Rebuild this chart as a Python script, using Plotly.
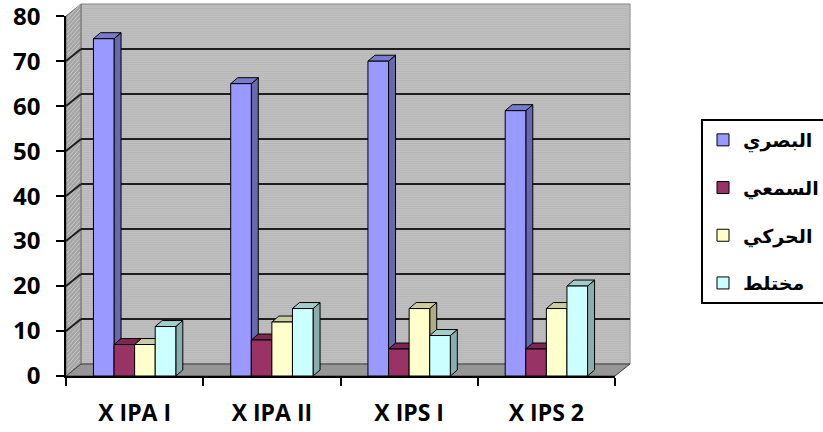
import plotly.graph_objects as go

# ---------------- data ----------------
categories = ["X IPA I", "X IPA II", "X IPS I", "X IPS 2"]
series_names = ["البصري", "السمعي", "الحركي", "مختلط"]
basari = [75, 65, 70, 59]
samei = [7, 8, 6, 6]
haraki = [7, 12, 15, 15]
mukhtalat = [11, 15, 9, 20]
y_tick_values = [0, 10, 20, 30, 40, 50, 60, 70, 80]

series_values = [basari, samei, haraki, mukhtalat]
colors = ["#9999FF", "#993366", "#FFFFCC", "#CCFFFF"]

# ---------------- geometry / style ----------------
W, H = 823, 432
ML, MR, MT, MB = 66, 208, 16, 56
PW, PH = W - ML - MR, H - MT - MB
Y_MAX = 80
BARGAP = 0.4
N = len(series_values)
bw = (1 - BARGAP) / N          # bar width in category units
px_per_x = PW / len(categories)
px_per_y = PH / Y_MAX

# wall depth (paper units)
dxp = 15 / PW
dyp = 12 / PH
# bar depth (data units)
dxb = 7 / px_per_x
dyb = 6 / px_per_y


def shade(hx, f):
    hx = hx.lstrip("#")
    r, g, b = (int(hx[i:i + 2], 16) for i in (0, 2, 4))
    return "#{:02x}{:02x}{:02x}".format(int(r * f), int(g * f), int(b * f))


shapes = []
# back wall
shapes.append(dict(type="rect", xref="paper", yref="paper", x0=dxp, x1=1 + dxp,
                   y0=dyp, y1=1 + dyp, fillcolor="#C0C0C0",
                   line=dict(color="#808080", width=1), layer="below"))
# subtle stripes on back wall
for k in range(1, Y_MAX * 2):
    yy = k / (Y_MAX * 2) + dyp
    shapes.append(dict(type="line", xref="paper", yref="paper", x0=dxp, x1=1 + dxp,
                       y0=yy, y1=yy, line=dict(color="#B6B6B6", width=1), layer="below"))
# left wall
shapes.append(dict(type="path", xref="paper", yref="paper",
                   path=f"M 0,0 L 0,1 L {dxp},{1 + dyp} L {dxp},{dyp} Z",
                   fillcolor="#A4A4A4", line=dict(color="#707070", width=1), layer="below"))
for k in range(0, Y_MAX):
    y0 = k / Y_MAX + 0.3 / Y_MAX
    shapes.append(dict(type="line", xref="paper", yref="paper", x0=0.002, x1=dxp - 0.002,
                       y0=y0, y1=y0 + dyp + 0.6 / Y_MAX,
                       line=dict(color="#C8C8C8", width=1), layer="below"))
# floor
shapes.append(dict(type="path", xref="paper", yref="paper",
                   path=f"M 0,0 L 1,0 L {1 + dxp},{dyp} L {dxp},{dyp} Z",
                   fillcolor="#969696", line=dict(color="#404040", width=1), layer="below"))
# gridlines (back wall + left wall)
for v in y_tick_values[1:-1]:
    yy = v / Y_MAX
    shapes.append(dict(type="line", xref="paper", yref="paper", x0=dxp, x1=1 + dxp,
                       y0=yy + dyp, y1=yy + dyp, line=dict(color="#1E1E1E", width=2),
                       layer="below"))
    shapes.append(dict(type="line", xref="paper", yref="paper", x0=0, x1=dxp,
                       y0=yy, y1=yy + dyp, line=dict(color="#1E1E1E", width=2),
                       layer="below"))

# 3D faces of the bars (side and top), derived from the data
for j, (vals, col) in enumerate(zip(series_values, colors)):
    for i, v in enumerate(vals):
        xl = i + (j - (N - 1) / 2) * bw - bw / 2
        xr = xl + bw
        shapes.append(dict(type="path", xref="x", yref="y",
                           path=f"M {xr},0 L {xr},{v} L {xr + dxb},{v + dyb} L {xr + dxb},{dyb} Z",
                           fillcolor=shade(col, 0.68), line=dict(color="black", width=1),
                           layer="below"))
        shapes.append(dict(type="path", xref="x", yref="y",
                           path=f"M {xl},{v} L {xr},{v} L {xr + dxb},{v + dyb} L {xl + dxb},{v + dyb} Z",
                           fillcolor=shade(col, 0.8), line=dict(color="black", width=1),
                           layer="below"))

fig = go.Figure()
for j, (name, vals, col) in enumerate(zip(series_names, series_values, colors)):
    fig.add_trace(go.Bar(
        x=list(range(len(categories))), y=vals, name=name,
        legendgroup=f"g{j}",
        marker=dict(color=col, line=dict(color="black", width=1)),
        hoverinfo="skip",
    ))

fig.update_layout(
    width=W, height=H,
    margin=dict(l=ML, r=MR, t=MT, b=MB, autoexpand=False),
    paper_bgcolor="white", plot_bgcolor="rgba(0,0,0,0)",
    barmode="group", bargap=BARGAP, bargroupgap=0,
    shapes=shapes,
    showlegend=True,
    legend=dict(
        x=(701 - ML) / PW, y=(376 - 119) / PH, xanchor="left", yanchor="top",
        bordercolor="black", borderwidth=2, bgcolor="white",
        font=dict(family="DejaVu Sans", size=19, color="black", weight="bold"),
        tracegroupgap=20, traceorder="grouped",
    ),
    font=dict(family="Open Sans", color="black"),
)
fig.update_xaxes(
    range=[-0.5, len(categories) - 0.5],
    tickvals=list(range(len(categories))), ticktext=categories,
    ticks="", showgrid=False, zeroline=False,
    showline=True, linecolor="black", linewidth=1.5,
    minor=dict(tick0=-0.5, dtick=1, ticks="outside", ticklen=8, tickcolor="black",
               tickwidth=1.5, showgrid=False),
    tickfont=dict(family="Open Sans", size=23, color="black", weight="bold"),
    ticklabelstandoff=16,
)
fig.update_yaxes(
    range=[0, Y_MAX + 0.05], tickvals=y_tick_values,
    ticks="outside", ticklen=8, tickcolor="black", tickwidth=1.5,
    showgrid=False, zeroline=False,
    showline=True, linecolor="black", linewidth=1.5,
    tickfont=dict(family="Open Sans", size=24, color="black", weight="bold"),
    ticklabelstandoff=11, ticklabeloverflow="allow",
)

fig.write_html("out.html",
               config={"displayModeBar": False},
               post_script="document.body.style.margin='0';document.body.style.overflow='hidden';")
